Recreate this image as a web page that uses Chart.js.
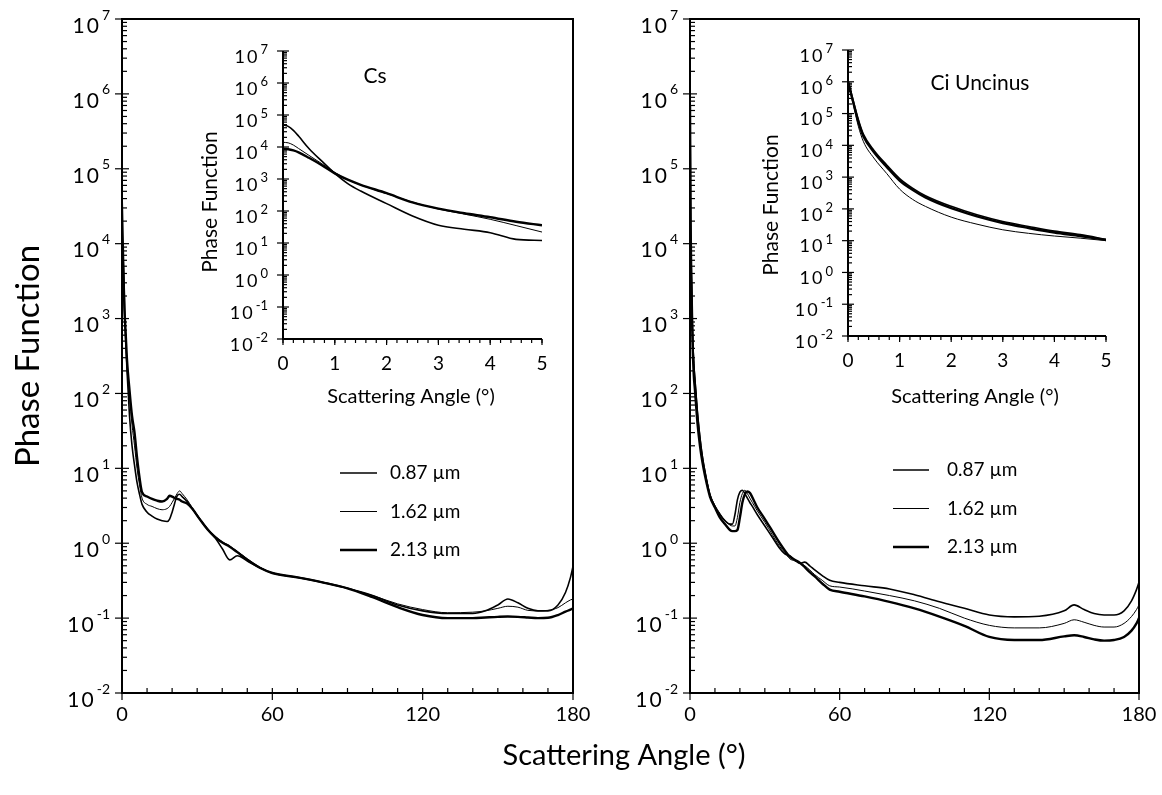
<!DOCTYPE html>
<html>
<head>
<meta charset="utf-8">
<script src="https://cdn.jsdelivr.net/npm/chart.js@4.4.1/dist/chart.umd.min.js"></script>
<style>
  body { margin: 0; background: #fff; }
  #wrap { position: relative; width: 1162px; height: 795px; background: #fff; }
  canvas { position: absolute; left: 0; top: 0; }
</style>
</head>
<body>
<div id="wrap">
  <canvas id="mainCs" width="1162" height="795"></canvas>
  <canvas id="mainCi" width="1162" height="795"></canvas>
  <canvas id="insetCs" width="1162" height="795"></canvas>
  <canvas id="insetCi" width="1162" height="795"></canvas>
</div>
<script>
// ---------- data ----------
const wavelengths = ["0.87 µm", "1.62 µm", "2.13 µm"];
const lineWidths = [1.6, 1.0, 2.4];

const decades = [-2, -1, 0, 1, 2, 3, 4, 5, 6, 7];
const mainXTicks = [0, 60, 120, 180];
const insetXTicks = [0, 1, 2, 3, 4, 5];

// Cs, full range
const csAngles = [0, 0.5, 1, 1.5, 2, 3, 4, 5, 6, 7, 8, 10, 12, 14, 16, 18, 19, 20, 21, 22, 23, 24, 26, 28, 31, 34, 37, 40, 43, 46, 50, 55, 60, 70, 80, 90, 100, 110, 120, 130, 140, 145, 150, 154, 158, 162, 166, 170, 174, 177, 179, 180];
const cs087 = [49000, 9000, 1400, 500, 200, 50, 20, 11, 6.5, 4.5, 3.3, 2.6, 2.3, 2.1, 2.0, 1.95, 2.1, 2.6, 3.4, 4.3, 4.5, 4.2, 3.6, 2.9, 2.1, 1.55, 1.2, 0.85, 0.6, 0.68, 0.58, 0.47, 0.40, 0.35, 0.30, 0.25, 0.20, 0.15, 0.125, 0.115, 0.115, 0.125, 0.15, 0.18, 0.16, 0.135, 0.125, 0.125, 0.15, 0.22, 0.35, 0.49];
const cs162 = [14000, 5500, 1300, 550, 250, 90, 38, 20, 10, 6, 4.0, 3.3, 3.1, 2.9, 2.8, 2.9, 3.1, 3.5, 4.0, 4.6, 5.0, 4.6, 3.8, 3.0, 2.15, 1.6, 1.25, 1.05, 0.92, 0.78, 0.62, 0.48, 0.40, 0.35, 0.30, 0.25, 0.20, 0.155, 0.13, 0.118, 0.12, 0.125, 0.135, 0.144, 0.14, 0.127, 0.125, 0.127, 0.138, 0.16, 0.175, 0.18];
const cs213 = [8700, 4500, 1300, 600, 280, 110, 50, 30, 14, 7.5, 4.8, 4.2, 3.9, 3.7, 3.6, 3.9, 4.3, 4.2, 4.0, 3.9, 3.8, 3.6, 3.4, 2.9, 2.1, 1.55, 1.22, 1.02, 0.9, 0.76, 0.6, 0.47, 0.40, 0.35, 0.30, 0.25, 0.19, 0.14, 0.11, 0.10, 0.10, 0.102, 0.104, 0.105, 0.104, 0.102, 0.10, 0.101, 0.11, 0.122, 0.13, 0.135];

// Ci Uncinus, full range
const ciAngles = [0, 0.25, 0.5, 1, 1.5, 2, 3, 4, 5, 6, 8, 10, 12, 14, 16, 17, 18, 19, 20, 21, 22, 23, 24, 25, 27, 30, 33, 36, 38, 40, 42, 44, 46, 48, 50, 53, 56, 60, 70, 80, 90, 100, 110, 120, 130, 140, 150, 154, 158, 162, 166, 170, 174, 177, 179, 180];
const ci087 = [1100000, 20000, 5000, 700, 250, 150, 55, 25, 14, 9, 4.4, 3.1, 2.4, 2.0, 1.8, 1.8, 2.4, 3.8, 4.8, 5.1, 4.6, 4.0, 3.5, 3.1, 2.4, 1.7, 1.2, 0.85, 0.72, 0.68, 0.6, 0.54, 0.56, 0.5, 0.44, 0.37, 0.32, 0.30, 0.27, 0.245, 0.205, 0.165, 0.135, 0.11, 0.104, 0.106, 0.125, 0.15, 0.13, 0.115, 0.11, 0.11, 0.125, 0.17, 0.24, 0.30];
const ci162 = [900000, 22000, 6000, 900, 300, 170, 60, 28, 15, 9.5, 4.6, 3.2, 2.5, 2.0, 1.75, 1.7, 1.7, 2.2, 3.5, 4.6, 5.1, 4.6, 4.0, 3.5, 2.7, 1.9, 1.3, 0.9, 0.75, 0.62, 0.58, 0.55, 0.5, 0.44, 0.38, 0.32, 0.27, 0.26, 0.23, 0.2, 0.17, 0.135, 0.10, 0.08, 0.074, 0.074, 0.085, 0.095, 0.088, 0.08, 0.076, 0.076, 0.085, 0.105, 0.13, 0.15];
const ci213 = [700000, 18000, 4000, 500, 180, 110, 40, 20, 12, 8, 4.2, 3.0, 2.2, 1.8, 1.5, 1.45, 1.45, 1.5, 2.2, 3.5, 4.5, 4.9, 4.7, 4.1, 3.0, 2.1, 1.45, 1.0, 0.8, 0.66, 0.6, 0.55, 0.48, 0.41, 0.36, 0.29, 0.24, 0.225, 0.195, 0.165, 0.135, 0.105, 0.079, 0.056, 0.051, 0.051, 0.057, 0.059, 0.056, 0.052, 0.05, 0.051, 0.056, 0.068, 0.085, 0.10];

// insets, 0-5 degrees
const insetAngles = [0, 0.1, 0.2, 0.3, 0.5, 0.75, 1, 1.25, 1.5, 2, 2.5, 3, 3.5, 4, 4.5, 5];
const csIn087 = [49000, 44000, 33000, 22000, 9000, 3600, 1500, 720, 420, 170, 70, 36, 27, 21, 13, 12];
const csIn162 = [14000, 13500, 11500, 9000, 5500, 3000, 1600, 950, 650, 350, 190, 115, 80, 55, 35, 22];
const csIn213 = [8700, 8500, 7800, 6800, 4600, 2700, 1500, 950, 660, 360, 185, 118, 85, 64, 46, 36];
const ciIn087 = [1100000, 260000, 65000, 22000, 7000, 2400, 900, 450, 260, 120, 65, 40, 28, 20, 15.5, 11];
const ciIn162 = [900000, 200000, 40000, 13000, 4000, 1300, 420, 200, 120, 55, 33, 22, 17, 14, 12, 10];
const ciIn213 = [1000000, 230000, 55000, 19000, 6200, 2100, 780, 400, 230, 105, 58, 36, 25, 18, 14, 10.5];

// ---------- drawing ----------
const FONT = "Lato, 'Open Sans', sans-serif";

function powLabel(ctx, e, xRight, y, big, small, dy1, dy2) {
  const exp = String(e);
  ctx.textAlign = "right";
  ctx.textBaseline = "middle";
  ctx.font = small + "px " + FONT;
  const we = ctx.measureText(exp).width;
  ctx.fillText(exp, xRight, y + dy2);
  ctx.font = big + "px " + FONT;
  ctx.letterSpacing = "2px";
  ctx.fillText("10", xRight - we - 1, y + dy1);
  ctx.letterSpacing = "0px";
}

const axesFrame = {
  id: "axesFrame",
  afterDraw(chart, args, o) {
    const ctx = chart.ctx;
    const a = chart.chartArea;
    const xs = chart.scales.x, ys = chart.scales.y;
    ctx.save();
    ctx.strokeStyle = "#000";
    ctx.fillStyle = "#000";
    ctx.lineWidth = 2;
    ctx.beginPath();
    if (o.box) {
      ctx.rect(a.left, a.top, a.right - a.left, a.bottom - a.top);
    } else {
      ctx.moveTo(a.left, a.top);
      ctx.lineTo(a.left, a.bottom);
      ctx.lineTo(a.right, a.bottom);
    }
    ctx.stroke();

    // y axis: decades and minor ticks
    ctx.lineWidth = 1.2;
    decades.forEach((e, i) => {
      const y = ys.getPixelForValue(Math.pow(10, e));
      ctx.beginPath();
      ctx.moveTo(a.left - o.majorLen, y);
      ctx.lineTo(a.left + o.majorLen, y);
      ctx.stroke();
      if (i < decades.length - 1) {
        for (let m = 2; m < 10; m++) {
          const ym = ys.getPixelForValue(m * Math.pow(10, e));
          ctx.beginPath();
          ctx.moveTo(a.left, ym);
          ctx.lineTo(a.left + o.minorLen, ym);
          ctx.stroke();
        }
      }
      powLabel(ctx, e, a.left - o.labelGap, y, o.yBig, o.ySmall, o.dy1, o.dy2);
    });

    // x axis
    for (let v = 0; v <= o.xTicks[o.xTicks.length - 1] + 1e-9; v += o.xMinorStep) {
      const x = xs.getPixelForValue(v);
      ctx.beginPath();
      ctx.moveTo(x, a.bottom);
      ctx.lineTo(x, a.bottom + o.xMinorDir * o.minorLen);
      ctx.stroke();
    }
    ctx.font = o.xFont + "px " + FONT;
    ctx.textAlign = "center";
    ctx.textBaseline = "middle";
    o.xTicks.forEach(v => {
      const x = xs.getPixelForValue(v);
      ctx.beginPath();
      ctx.moveTo(x, a.bottom);
      ctx.lineTo(x, a.bottom + o.majorLen);
      ctx.stroke();
      ctx.fillText(String(v), x, a.bottom + o.xLabelDy);
    });

    // titles
    (o.texts || []).forEach(t => {
      ctx.save();
      ctx.font = t.size + "px " + FONT;
      ctx.textAlign = "center";
      ctx.textBaseline = "middle";
      ctx.translate(t.x, t.y);
      if (t.rot) ctx.rotate(-Math.PI / 2);
      ctx.fillText(t.text, 0, 0);
      ctx.restore();
    });

    // legend
    if (o.legend) {
      const L = o.legend;
      chart.data.datasets.forEach((ds, i) => {
        const y = L.y + i * L.dy;
        ctx.lineWidth = ds.borderWidth;
        ctx.beginPath();
        ctx.moveTo(L.x1, y);
        ctx.lineTo(L.x2, y);
        ctx.stroke();
        ctx.font = L.size + "px " + FONT;
        ctx.textAlign = "left";
        ctx.textBaseline = "middle";
        ctx.fillText(ds.label, L.tx, y);
      });
    }
    ctx.restore();
  }
};

function makeChart(id, pad, xMax, angles, seriesList, deco) {
  return new Chart(document.getElementById(id), {
    type: "line",
    data: {
      datasets: seriesList.map((vals, i) => ({
        label: wavelengths[i],
        data: angles.map((ang, k) => ({ x: ang, y: vals[k] })),
        borderColor: "#000",
        borderWidth: lineWidths[i],
        pointRadius: 0,
        cubicInterpolationMode: "monotone",
        fill: false,
      })),
    },
    options: {
      responsive: false,
      animation: false,
      devicePixelRatio: 1,
      layout: { padding: pad },
      plugins: {
        legend: { display: false },
        tooltip: { enabled: false },
        axesFrame: deco,
      },
      scales: {
        x: { type: "linear", min: 0, max: xMax, display: false },
        y: { type: "logarithmic", min: 0.01, max: 1e7, display: false },
      },
    },
    plugins: [axesFrame],
  });
}

const mainDeco = {
  box: true, majorLen: 7, minorLen: 5, labelGap: 12,
  yBig: 21, ySmall: 14, dy1: 7, dy2: -4,
  xTicks: mainXTicks, xMinorStep: 10, xMinorDir: -1, xFont: 20, xLabelDy: 22,
};
const insetDeco = {
  box: false, majorLen: 6, minorLen: 4, labelGap: 15,
  yBig: 18, ySmall: 13, dy1: 6, dy2: -1,
  xTicks: insetXTicks, xMinorStep: 0.2, xMinorDir: 1, xFont: 19, xLabelDy: 25,
};

makeChart("mainCs", { left: 122, right: 1162 - 573, top: 19, bottom: 795 - 693 }, 180,
  csAngles, [cs087, cs162, cs213],
  Object.assign({}, mainDeco, {
    texts: [
      { text: "Phase Function", x: 28, y: 356, size: 33, rot: true },
      { text: "Scattering Angle (°)", x: 624, y: 756, size: 29 },
    ],
    legend: { x1: 340, x2: 377, tx: 390, y: 473, dy: 38.5, size: 19 },
  }));

makeChart("mainCi", { left: 690, right: 1162 - 1139, top: 19, bottom: 795 - 693 }, 180,
  ciAngles, [ci087, ci162, ci213],
  Object.assign({}, mainDeco, {
    legend: { x1: 893, x2: 929, tx: 947, y: 470, dy: 38.5, size: 19 },
  }));

makeChart("insetCs", { left: 283, right: 1162 - 542, top: 51, bottom: 795 - 339 }, 5,
  insetAngles, [csIn087, csIn162, csIn213],
  Object.assign({}, insetDeco, {
    texts: [
      { text: "Phase Function", x: 210, y: 202, size: 21, rot: true },
      { text: "Scattering Angle (°)", x: 411, y: 397, size: 20 },
      { text: "Cs", x: 375, y: 76, size: 21 },
    ],
  }));

makeChart("insetCi", { left: 848, right: 1162 - 1106, top: 50, bottom: 795 - 336 }, 5,
  insetAngles, [ciIn087, ciIn162, ciIn213],
  Object.assign({}, insetDeco, {
    texts: [
      { text: "Phase Function", x: 771, y: 205, size: 21, rot: true },
      { text: "Scattering Angle (°)", x: 975, y: 397, size: 20 },
      { text: "Ci Uncinus", x: 980, y: 83, size: 21 },
    ],
  }));
</script>
</body>
</html>
